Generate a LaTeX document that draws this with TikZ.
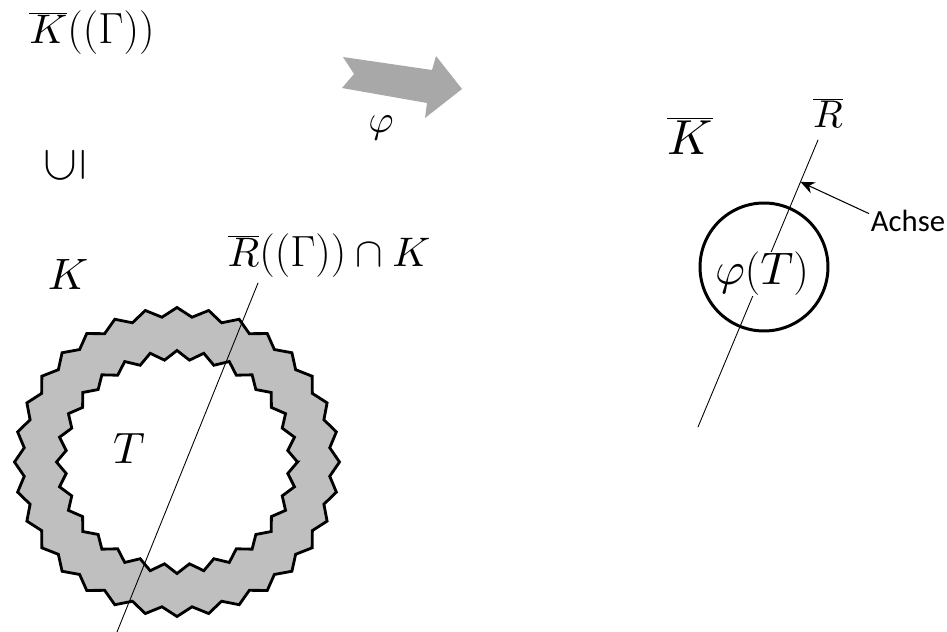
\documentclass[tikz,border=0pt]{standalone}
\usepackage{fontspec}
\newfontfamily\achsefont{Carlito}
\DeclareFontShape{OML}{cmm}{m}{it}{<->cmmi10}{}
\DeclareFontShape{OMS}{cmsy}{m}{n}{<->cmsy10}{}
\usetikzlibrary{arrows.meta,calc}
\definecolor{rgFill}{gray}{0.75}
\definecolor{rgArrow}{gray}{0.66}
\newcommand{\rgsize}[1]{\fontsize{#1}{#1}\selectfont}
\tikzset{
  rg diagram/.style={x=0.02cm, y=-0.02cm, font=\rgsize{23.5},
    line cap=round, line join=round},
  rg ring/.style={draw=black, fill=rgFill, line width=1.6pt, even odd rule,
    line join=miter},
  rg axis/.style={draw=black, line width=0.5pt},
  rg disc/.style={circle, draw=black, line width=1.7pt, minimum size=2.56cm,
    inner sep=0pt},
  rg map/.style={fill=rgArrow},
  rg pointer/.style={-{Stealth[length=2.8mm,width=2.4mm]}, line width=0.6pt},
  rg note/.style={font=\achsefont\rgsize{17.5}, inner sep=1pt},
  rg cover/.style={fill=white, inner sep=0pt}
}

\begin{document}
\begin{tikzpicture}[rg diagram]
\useasboundingbox (0,0) rectangle (947,632);
% left side: the ring K around T
\node (kbarG) at (92,33) {$\overline{K}((\Gamma))$};
\node[rotate=90,font=\rgsize{28}] (incl) at (65,165) {$\subseteq$};
\node[font=\rgsize{25}] (K) at (68,274) {$K$};
\node (rgam) at (329,256) {$\overline{R}((\Gamma))\cap K$};
\begin{scope}[shift={(177,462)}]
\filldraw[rg ring]
  plot[domain=0:360,samples=65] ({(158+4.5*cos(32*\x))*cos(\x)},{(150+4.5*cos(32*\x))*sin(\x)}) -- cycle
  plot[domain=0:360,samples=57] ({(116+4.5*cos(28*\x))*cos(\x)},{(107+4.5*cos(28*\x))*sin(\x)}) -- cycle;
\end{scope}
\node[font=\rgsize{25}] (T) at (129,448) {$T$};
\coordinate (ltop) at (258,283);
\coordinate (lbot) at (117,632);
\draw[rg axis] (ltop) -- (lbot);
% the map
\fill[rg map] (343,57) -- (432,70) -- (436,56) -- (462,89) -- (425,118)
  -- (427,103) -- (342,88) -- (354,74) -- cycle;
\node[font=\rgsize{22}] (phi) at (381,128) {$\varphi$};
% right side
\node[font=\rgsize{28}] (Kbar) at (690,136) {$\overline{K}$};
\node[font=\rgsize{22}] (Rbar) at (828,113) {$\overline{R}$};
\coordinate (atop) at (818,140);
\coordinate (abot) at (698,427);
\coordinate (hit) at ($(atop)!0.146!(abot)$);
\draw[rg axis] (atop) -- (abot);
\node[rg cover,font=\rgsize{26}] (phiT) at (762,274) {$\varphi(T)$};
\node[rg disc] (disc) at (764,267) {};
\node[rg note] (achse) at (908,221) {Achse};
\draw[rg pointer] ([yshift=0.15cm]achse.west) -- (hit);
\end{tikzpicture}
\end{document}
